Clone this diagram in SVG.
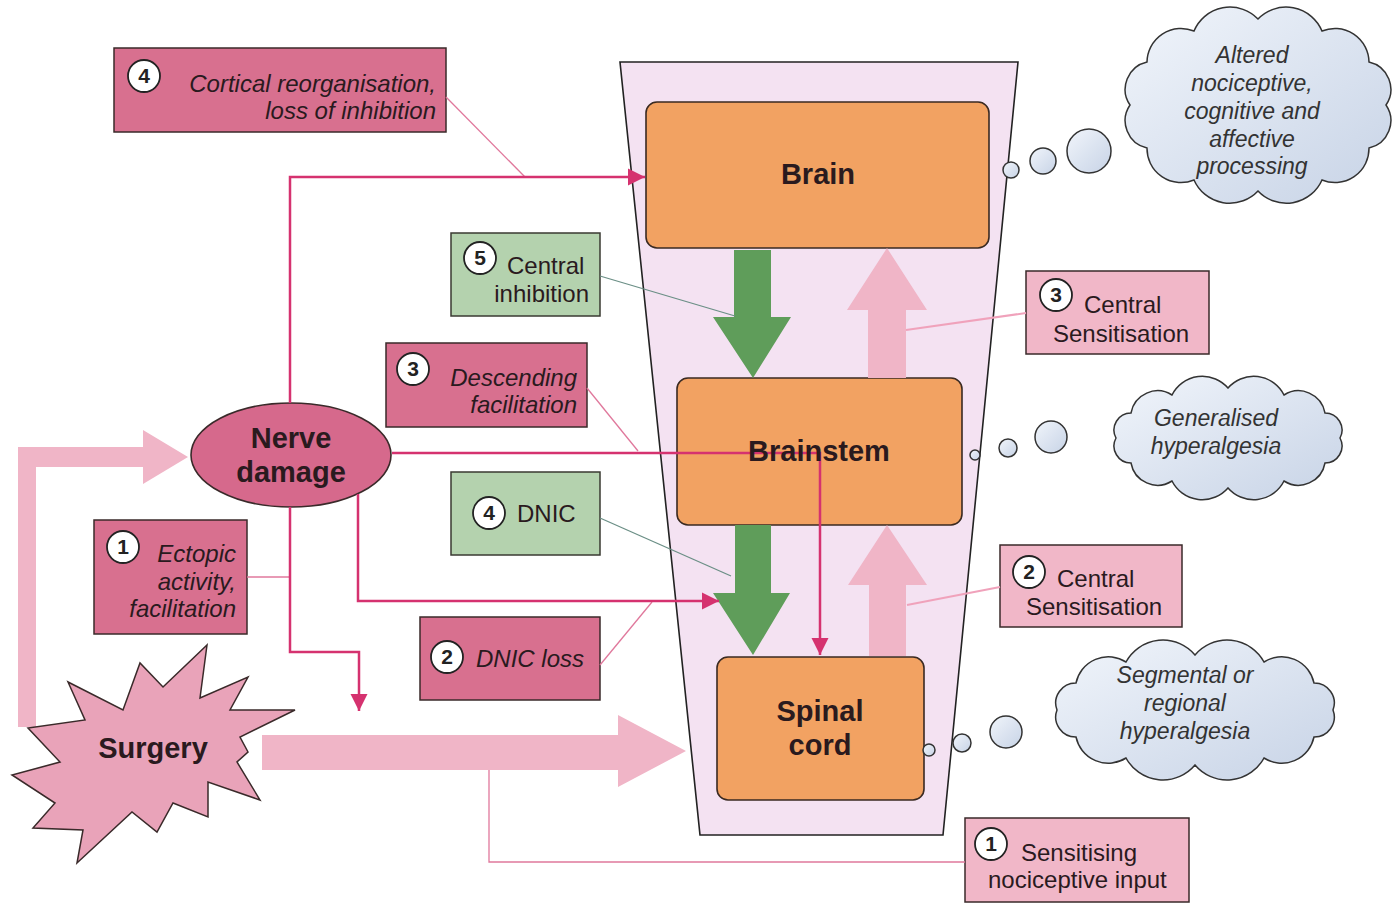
<svg xmlns="http://www.w3.org/2000/svg" width="1400" height="921" viewBox="0 0 1400 921">
<defs>
<style>
text{font-family:"Liberation Sans",Arial,sans-serif;fill:#2a1a1e}
.node{fill:#f2a262;stroke:#3a2a22;stroke-width:1.6}
.ntext{font-size:29px;font-weight:bold;text-anchor:middle}
.dark{fill:#d8708f;stroke:#3a2a2a;stroke-width:1.5}
.light{fill:#f1b7c8;stroke:#3a2a2a;stroke-width:1.5}
.green{fill:#b4d2ae;stroke:#3a3a32;stroke-width:1.5}
.lab{font-size:24px}
.it{font-style:italic}
.end{text-anchor:end}
.numc{fill:#fff;stroke:#222;stroke-width:1.8}
.numt{font-size:21px;font-weight:bold;text-anchor:middle;fill:#222}
.cloud{fill:url(#cg);stroke:#333;stroke-width:1.5}
.ctext{font-size:23px;font-style:italic;text-anchor:middle;fill:#333}
.mag{fill:none;stroke:#d5326f;stroke-width:2.5}
.lead{fill:none;stroke:#e0789c;stroke-width:1.3}
.leadg{fill:none;stroke:#6b8f86;stroke-width:1.3}
.leadl{fill:none;stroke:#f0a2bb;stroke-width:2}
.pinkbig{fill:#f0b5c7}
.greenbig{fill:#5f9d5a}
</style>
<linearGradient id="cg" x1="0" y1="0" x2="1" y2="1">
<stop offset="0" stop-color="#f1f5fb"/>
<stop offset="1" stop-color="#c7d3e6"/>
</linearGradient>
<marker id="ah" viewBox="0 0 10 10" refX="10" refY="5" markerWidth="7" markerHeight="7" orient="auto">
<path d="M0,0 L10,5 L0,10 Z" fill="#d5326f"/>
</marker>
</defs>
<rect width="1400" height="921" fill="#ffffff"/>

<g id="cns-funnel">
<path d="M620,62 L1018,62 L943,835 L700,835 Z" fill="#f4e2f2" stroke="#222" stroke-width="1.6"/>
</g>

<g id="big-arrows">
<path class="pinkbig" d="M18,727 L18,447 L143,447 L143,430 L188,457 L143,484 L143,467 L36,467 L36,727 Z"/>
<path class="pinkbig" d="M262,735 L618,735 L618,715 L686,751 L618,787 L618,770 L262,770 Z"/>
</g>

<g id="brain">
<rect class="node" x="646" y="102" width="343" height="146" rx="11"/>
<text class="ntext" x="818" y="184">Brain</text>
</g>
<g id="brainstem">
<rect class="node" x="677" y="378" width="285" height="147" rx="11"/>
</g>
<g id="spinal-cord">
<rect class="node" x="717" y="657" width="207" height="143" rx="11"/>
<text class="ntext" x="820" y="721">Spinal</text>
<text class="ntext" x="820" y="755">cord</text>
</g>

<g id="nerve-damage">
<ellipse cx="291" cy="455" rx="100" ry="52" fill="#d6698c" stroke="#3a2a2a" stroke-width="1.6"/>
<text class="ntext" x="291" y="448">Nerve</text>
<text class="ntext" x="291" y="482">damage</text>
</g>

<g id="surgery">
<polygon points="207,645 200,698 248,677 230,710 295,710 240,737 248,752 237,762 260,800 208,782 208,817 173,803 157,832 132,812 77,863 83,830 33,828 55,803 12,775 60,762 28,728 85,720 68,682 123,710 140,663 163,687" fill="#e9a3b9" stroke="#3a2a2a" stroke-width="1.5"/>
<text class="ntext" x="153" y="758">Surgery</text>
</g>

<g id="cloud-brain">
<path class="cloud" d="M1386,105 A28,28 0 0 1 1369,148 A34,34 0 0 1 1322,180 A39,39 0 0 1 1258,191 A39,39 0 0 1 1194,180 A34,34 0 0 1 1147,148 A28,28 0 0 1 1130,105 A28,28 0 0 1 1147,62 A34,34 0 0 1 1194,31 A39,39 0 0 1 1258,19 A39,39 0 0 1 1322,31 A34,34 0 0 1 1369,62 A28,28 0 0 1 1386,105 Z"/>
<circle class="cloud" cx="1011" cy="170" r="8"/>
<circle class="cloud" cx="1043" cy="161" r="13"/>
<circle class="cloud" cx="1089" cy="151" r="22"/>
<text class="ctext" x="1252" y="63">Altered</text>
<text class="ctext" x="1252" y="91">nociceptive,</text>
<text class="ctext" x="1252" y="119">cognitive and</text>
<text class="ctext" x="1252" y="147">affective</text>
<text class="ctext" x="1252" y="174">processing</text>
</g>

<g id="cloud-brainstem">
<path class="cloud" d="M1340,438 A17,17 0 0 1 1325,463 A27,27 0 0 1 1284,481 A34,34 0 0 1 1228,488 A34,34 0 0 1 1172,481 A27,27 0 0 1 1131,463 A17,17 0 0 1 1116,438 A17,17 0 0 1 1131,413 A27,27 0 0 1 1172,395 A34,34 0 0 1 1228,388 A34,34 0 0 1 1284,395 A27,27 0 0 1 1325,413 A17,17 0 0 1 1340,438 Z"/>
<circle class="cloud" cx="975" cy="455" r="5"/>
<circle class="cloud" cx="1008" cy="448" r="9"/>
<circle class="cloud" cx="1051" cy="437" r="16"/>
<text class="ctext" x="1216" y="426">Generalised</text>
<text class="ctext" x="1216" y="454">hyperalgesia</text>
</g>

<g id="cloud-spinal">
<path class="cloud" d="M1333,710 A20,20 0 0 1 1314,737 A33,33 0 0 1 1264,758 A42,42 0 0 1 1195,765 A42,42 0 0 1 1126,758 A33,33 0 0 1 1076,737 A20,20 0 0 1 1057,710 A20,20 0 0 1 1076,683 A33,33 0 0 1 1126,662 A42,42 0 0 1 1195,655 A42,42 0 0 1 1264,662 A33,33 0 0 1 1314,683 A20,20 0 0 1 1333,710 Z"/>
<circle class="cloud" cx="929" cy="750" r="6"/>
<circle class="cloud" cx="962" cy="743" r="9"/>
<circle class="cloud" cx="1006" cy="732" r="16"/>
<text class="ctext" x="1185" y="683">Segmental or</text>
<text class="ctext" x="1185" y="711">regional</text>
<text class="ctext" x="1185" y="739">hyperalgesia</text>
</g>

<g id="label-cortical">
<rect class="dark" x="114" y="48" width="332" height="84"/>
<circle class="numc" cx="144" cy="76" r="16"/>
<text class="numt" x="144" y="83">4</text>
<text class="lab it end" x="436" y="92">Cortical reorganisation,</text>
<text class="lab it end" x="436" y="119">loss of inhibition</text>
</g>

<g id="label-central-inhibition">
<rect class="green" x="451" y="233" width="149" height="83"/>
<circle class="numc" cx="480" cy="258" r="16"/>
<text class="numt" x="480" y="265">5</text>
<text class="lab" x="507" y="274">Central</text>
<text class="lab end" x="589" y="302">inhibition</text>
</g>

<g id="label-descending">
<rect class="dark" x="386" y="343" width="201" height="84"/>
<circle class="numc" cx="413" cy="369" r="16"/>
<text class="numt" x="413" y="376">3</text>
<text class="lab it end" x="577" y="386">Descending</text>
<text class="lab it end" x="577" y="413">facilitation</text>
</g>

<g id="label-dnic">
<rect class="green" x="451" y="472" width="149" height="83"/>
<circle class="numc" cx="489" cy="513" r="16"/>
<text class="numt" x="489" y="520">4</text>
<text class="lab" x="517" y="522">DNIC</text>
</g>

<g id="label-dnic-loss">
<rect class="dark" x="420" y="617" width="180" height="83"/>
<circle class="numc" cx="447" cy="657" r="16"/>
<text class="numt" x="447" y="664">2</text>
<text class="lab it" x="476" y="667">DNIC loss</text>
</g>

<g id="label-ectopic">
<rect class="dark" x="94" y="520" width="153" height="114"/>
<circle class="numc" cx="123" cy="547" r="16"/>
<text class="numt" x="123" y="554">1</text>
<text class="lab it end" x="236" y="562">Ectopic</text>
<text class="lab it end" x="236" y="590">activity,</text>
<text class="lab it end" x="236" y="617">facilitation</text>
</g>

<g id="label-central-sens-3">
<rect class="light" x="1026" y="271" width="183" height="83"/>
<circle class="numc" cx="1056" cy="295" r="16"/>
<text class="numt" x="1056" y="302">3</text>
<text class="lab" x="1084" y="313">Central</text>
<text class="lab" x="1053" y="342">Sensitisation</text>
</g>

<g id="label-central-sens-2">
<rect class="light" x="1000" y="545" width="182" height="82"/>
<circle class="numc" cx="1029" cy="572" r="16"/>
<text class="numt" x="1029" y="579">2</text>
<text class="lab" x="1057" y="587">Central</text>
<text class="lab" x="1026" y="615">Sensitisation</text>
</g>

<g id="label-sensitising">
<rect class="light" x="965" y="818" width="224" height="84"/>
<circle class="numc" cx="991" cy="844" r="16"/>
<text class="numt" x="991" y="851">1</text>
<text class="lab" x="1021" y="861">Sensitising</text>
<text class="lab" x="988" y="888">nociceptive input</text>
</g>

<g id="connectors">
<path class="greenbig" d="M734,250 L771,250 L771,317 L791,317 L753,378 L713,317 L734,317 Z"/>
<path class="greenbig" d="M735,525 L771,525 L771,593 L790,593 L753,655 L713,593 L735,593 Z"/>
<path class="pinkbig" d="M868,378 L868,310 L847,310 L887,248 L927,310 L906,310 L906,378 Z"/>
<path class="pinkbig" d="M869,656 L869,585 L848,585 L887,525 L927,585 L906,585 L906,656 Z"/>
<path class="lead" d="M446,97 L525,177"/>
<path class="leadg" d="M600,276 L735,316"/>
<path class="lead" d="M587,388 L638,451"/>
<path class="leadg" d="M600,518 L731,576"/>
<path class="lead" d="M600,665 L652,602"/>
<path class="lead" d="M247,577 L290,577"/>
<path class="leadl" d="M1026,313 L906,330"/>
<path class="leadl" d="M1000,587 L907,605"/>
<path class="lead" d="M489,770 L489,862 L965,862"/>
<path class="mag" d="M290,403 L290,177 L645,177" marker-end="url(#ah)"/>
<path class="mag" d="M392,453 L820,453 L820,655" marker-end="url(#ah)"/>
<path class="mag" d="M358,494 L358,601 L719,601" marker-end="url(#ah)"/>
<path class="mag" d="M290,507 L290,652 L359,652 L359,711" marker-end="url(#ah)"/>
</g>

<g id="brainstem-label">
<text class="ntext" x="819" y="461">Brainstem</text>
</g>
</svg>
